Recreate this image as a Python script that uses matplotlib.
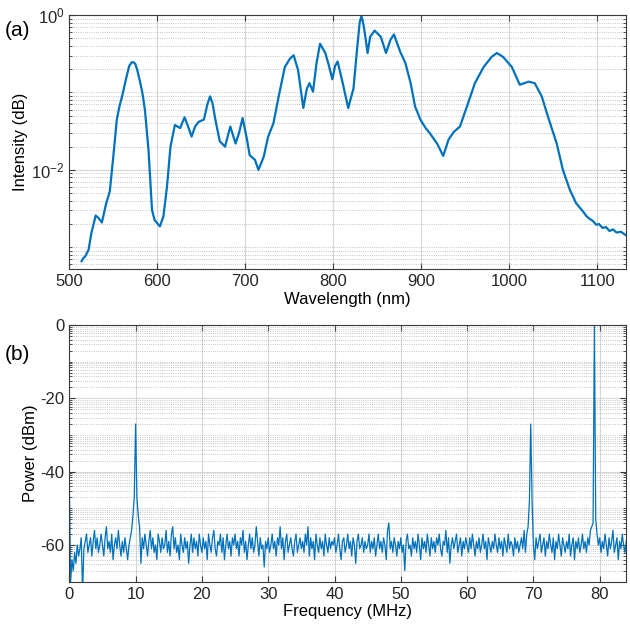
import numpy as np
import matplotlib
matplotlib.use('Agg')
import matplotlib.pyplot as plt
from matplotlib.ticker import FixedLocator, NullFormatter, LogFormatterMathtext

plt.rcParams['font.family'] = ['Liberation Sans', 'DejaVu Sans']
plt.rcParams['font.size'] = 12
plt.rcParams['axes.unicode_minus'] = False

# (a) spectrum
wavelength_nm = [514, 516, 518, 522, 525, 530, 533, 537, 542, 546, 550, 554, 557, 560, 565,
                 568, 571, 573, 575, 577, 580, 583, 586, 590, 594, 597, 603, 607, 611, 615,
                 620, 626, 631, 635, 639, 643, 647, 653, 657, 660, 663, 666, 671, 677, 683,
                 689, 693, 697, 702, 705, 711, 715, 721, 726, 732, 738, 745, 751, 755, 760,
                 766, 770, 773, 777, 781, 785, 791, 795, 799, 802, 805, 810, 817, 823, 827,
                 830, 832, 834, 836, 839, 842, 847, 854, 860, 865, 869, 876, 882, 888, 893,
                 899, 905, 910, 918, 925, 931, 937, 944, 952, 961, 971, 980, 986, 993, 1003,
                 1012, 1017, 1022, 1029, 1037, 1044, 1054, 1061, 1069, 1076, 1084, 1088,
                 1091, 1095, 1099, 1102, 1106, 1110, 1114, 1118, 1122, 1127, 1132]
intensity_log10 = [-3.18, -3.14, -3.12, -3.03, -2.82, -2.59, -2.62, -2.68, -2.43, -2.28,
                   -1.83, -1.35, -1.18, -1.05, -0.80, -0.66, -0.61, -0.61, -0.63, -0.70,
                   -0.84, -1.00, -1.23, -1.74, -2.52, -2.65, -2.73, -2.60, -2.22, -1.70,
                   -1.42, -1.46, -1.32, -1.44, -1.57, -1.44, -1.38, -1.35, -1.15, -1.05,
                   -1.15, -1.35, -1.63, -1.70, -1.44, -1.66, -1.52, -1.33, -1.61, -1.81,
                   -1.87, -2.00, -1.83, -1.57, -1.40, -1.05, -0.67, -0.56, -0.52, -0.71,
                   -1.20, -0.95, -0.88, -0.99, -0.62, -0.37, -0.49, -0.65, -0.83, -0.66,
                   -0.60, -0.84, -1.20, -0.95, -0.45, -0.10, -0.01, -0.10, -0.24, -0.49,
                   -0.28, -0.20, -0.28, -0.49, -0.32, -0.25, -0.47, -0.62, -0.88, -1.18,
                   -1.35, -1.46, -1.53, -1.66, -1.82, -1.61, -1.51, -1.44, -1.18, -0.88,
                   -0.67, -0.54, -0.49, -0.54, -0.67, -0.90, -0.88, -0.86, -0.88, -1.05,
                   -1.31, -1.66, -2.00, -2.26, -2.43, -2.54, -2.60, -2.63, -2.66, -2.71,
                   -2.70, -2.75, -2.74, -2.79, -2.77, -2.81, -2.80, -2.84]

# (b) RF spectrum, 0.2 MHz per sample
freq_step_mhz = 0.2
power_dbm = [
    -43, -70, -64, -67, -62, -65, -60, -63, -61, -58, -73, -61, -59, -57, -62, -60, -58, -63, -59, -56, -61, -58, -62, -60, -57,
    -60, -63, -58, -55, -61, -59, -62, -57, -64, -60, -58, -61, -56, -60, -63, -59, -62, -58, -61, -64, -60, -58, -56, -52, -47,
    -27, -47, -52, -55, -65, -58, -61, -57, -60, -63, -59, -56, -61, -58, -62, -60, -64, -57, -59, -62, -58, -61, -60, -56, -62,
    -59, -63, -57, -55, -61, -58, -62, -60, -64, -57, -60, -62, -58, -61, -59, -65, -60, -57, -62, -58, -61, -59, -63, -57, -60,
    -62, -58, -61, -59, -64, -57, -60, -62, -58, -56, -61, -63, -59, -60, -57, -62, -58, -64, -60, -57, -61, -59, -63, -58, -60,
    -57, -61, -59, -63, -58, -60, -56, -62, -59, -64, -60, -57, -61, -58, -62, -60, -55, -59, -63, -58, -61, -60, -66, -59, -61,
    -58, -62, -60, -57, -61, -59, -63, -58, -60, -55, -61, -58, -64, -59, -57, -62, -60, -58, -61, -63, -59, -57, -62, -60, -58,
    -61, -59, -62, -57, -60, -55, -63, -58, -61, -59, -64, -57, -60, -62, -58, -61, -59, -63, -57, -60, -62, -58, -61, -59, -60,
    -58, -62, -60, -57, -61, -64, -59, -58, -62, -60, -57, -61, -59, -63, -58, -60, -65, -59, -57, -61, -60, -58, -62, -59, -61,
    -60, -57, -62, -59, -61, -58, -63, -60, -57, -61, -59, -62, -58, -60, -64, -56, -54, -61, -59, -62, -58, -60, -63, -59, -61,
    -58, -62, -60, -67, -59, -57, -61, -60, -63, -58, -61, -59, -62, -57, -60, -64, -58, -61, -59, -62, -57, -60, -63, -58, -61,
    -59, -62, -58, -60, -57, -61, -63, -59, -60, -56, -62, -58, -65, -60, -58, -61, -59, -57, -62, -60, -58, -63, -59, -61, -58,
    -60, -62, -58, -61, -57, -60, -63, -59, -61, -58, -62, -60, -57, -61, -59, -64, -58, -60, -62, -59, -61, -57, -60, -62, -58,
    -61, -59, -63, -58, -60, -62, -57, -61, -59, -60, -63, -58, -61, -59, -62, -60, -58, -61, -56, -62, -57, -55, -48, -27, -48,
    -60, -64, -58, -61, -59, -57, -62, -60, -58, -63, -59, -61, -57, -60, -62, -58, -64, -59, -61, -57, -60, -63, -58, -60, -62,
    -59, -61, -57, -63, -60, -58, -64, -59, -61, -58, -62, -60, -57, -61, -59, -62, -58, -60, -56, -55, -54, 0, -53, -57, -60,
    -58, -62, -59, -61, -57, -60, -63, -58, -61, -59, -56, -62, -60, -58, -64, -59, -61, -57, -60, -62, -59]

line_color = '#0072BD'
grid_color = '#d6d6d6'
spine_color = '#3a3a3a'


def style_axes(ax):
    for s in ax.spines.values():
        s.set_color(spine_color)
        s.set_linewidth(0.8)
    ax.tick_params(which='both', direction='in', top=True, right=True,
                   color=spine_color, labelcolor='#262626')
    ax.tick_params(which='major', length=4)
    ax.tick_params(which='minor', length=2)
    ax.grid(which='major', color=grid_color, linewidth=0.8, linestyle='-')
    ax.grid(which='minor', color='#b4b4b4', linewidth=0.6, linestyle=':')
    ax.set_axisbelow(True)


fig = plt.figure(figsize=(6.3, 6.29), dpi=100)

# top panel
ax1 = fig.add_axes([0.110, 0.572, 0.884, 0.404])
ax1.plot(wavelength_nm, 10 ** np.array(intensity_log10), color=line_color, linewidth=1.6)
ax1.set_yscale('log')
ax1.set_xlim(500, 1133)
ax1.set_ylim(5.2e-4, 1)
ax1.set_xticks([500, 600, 700, 800, 900, 1000, 1100])
ax1.yaxis.set_major_locator(FixedLocator([1e-2, 1]))
ax1.yaxis.set_major_formatter(LogFormatterMathtext())
minor_log = [m * 10.0 ** k for k in range(-4, 0) for m in range(1, 10)]
ax1.yaxis.set_minor_locator(FixedLocator([v for v in minor_log if v not in (1e-2, 1)]))
ax1.yaxis.set_minor_formatter(NullFormatter())
style_axes(ax1)
ax1.set_xlabel('Wavelength (nm)', labelpad=2)
ax1.set_ylabel('Intensity (dB)', labelpad=2)
fig.text(0.008, 0.943, '(a)', fontsize=15)

# bottom panel
freq_mhz = np.arange(len(power_dbm)) * freq_step_mhz
ax2 = fig.add_axes([0.110, 0.0752, 0.884, 0.408])
ax2.plot(freq_mhz, power_dbm, color=line_color, linewidth=0.9)
ax2.set_xlim(0, 84)
ax2.set_ylim(-70, 0)
ax2.set_xticks(range(0, 81, 10))
ax2.set_yticks([0, -20, -40, -60])
minor_db = []
for k in range(7):
    for m in range(1, 10):
        minor_db.append(-10 * (k + 1) + 10 * np.log10(m))
ax2.yaxis.set_minor_locator(FixedLocator(minor_db))
style_axes(ax2)
ax2.set_xlabel('Frequency (MHz)', labelpad=2)
ax2.set_ylabel('Power (dBm)', labelpad=2)
fig.text(0.008, 0.428, '(b)', fontsize=15)

fig.savefig('out.png', dpi=100)
